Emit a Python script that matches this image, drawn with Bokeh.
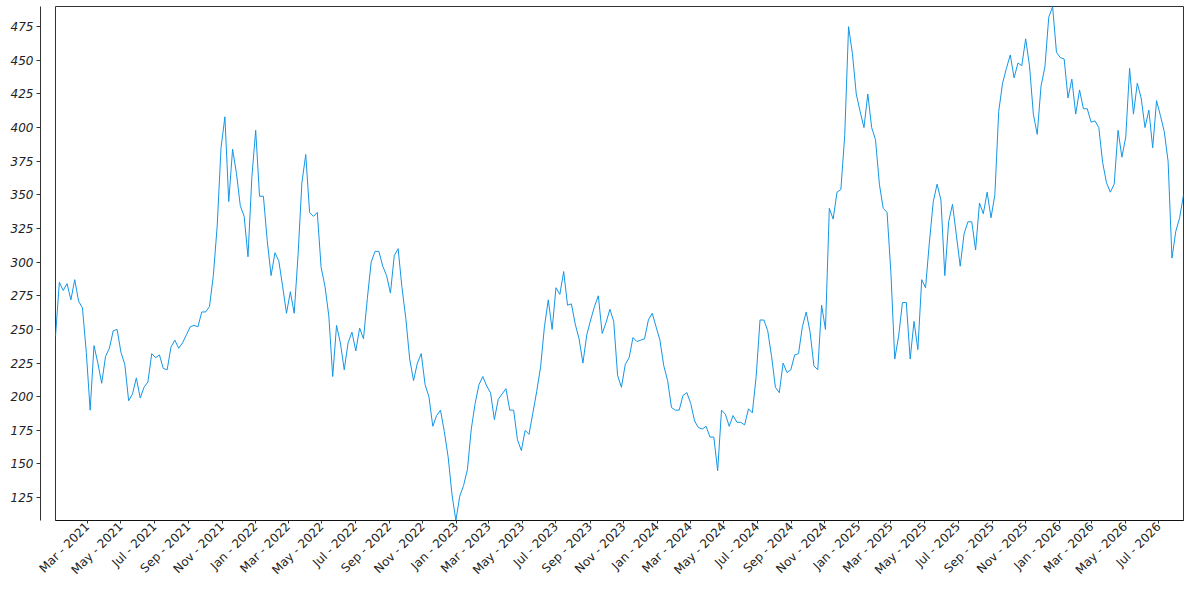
import math
import pandas as pd
from bokeh.plotting import figure
from bokeh.models import (Range1d, LinearAxis, FixedTicker, MonthsTicker,
                          DatetimeTickFormatter, SingleIntervalTicker, ColumnDataSource)
from bokeh.embed import file_html
from bokeh.resources import INLINE

start_date = "2021-01-02"
values = [
    245, 285, 279, 284, 272, 287, 271, 266, 233, 190,
    238, 225, 210, 230, 236, 249, 250, 233, 224, 197,
    202, 214, 199, 207, 211, 232, 229, 231, 221, 220,
    237, 242, 236, 240, 246, 252, 253, 252, 263, 263,
    267, 290, 327, 385, 408, 345, 384, 366, 342, 334,
    304, 363, 398, 349, 349, 316, 290, 307, 301, 282,
    262, 278, 262, 305, 359, 380, 337, 334, 337, 296,
    282, 260, 215, 253, 240, 220, 240, 248, 234, 251,
    243, 273, 300, 308, 308, 297, 290, 277, 305, 310,
    281, 258, 228, 212, 225, 232, 209, 200, 178, 186,
    190, 174, 155, 127, 108, 126, 134, 146, 176, 195,
    209, 215, 208, 203, 183, 198, 202, 206, 190, 190,
    168, 160, 175, 172, 188, 204, 222, 252, 272, 250,
    281, 276, 293, 268, 269, 254, 243, 225, 246, 257,
    267, 275, 247, 255, 265, 256, 216, 207, 224, 229,
    244, 241, 242, 243, 257, 262, 252, 242, 223, 212,
    192, 190, 190, 201, 203, 195, 182, 177, 176, 178,
    170, 170, 145, 190, 187, 178, 186, 181, 181, 179,
    191, 188, 215, 257, 257, 249, 230, 207, 203, 225,
    218, 220, 231, 232, 252, 263, 248, 223, 220, 268,
    250, 340, 332, 352, 354, 394, 475, 455, 425, 412,
    400, 425, 400, 391, 358, 340, 337, 292, 228, 245,
    270, 270, 228, 256, 235, 287, 281, 315, 345, 358,
    346, 290, 330, 343, 320, 297, 321, 330, 330, 309,
    344, 336, 352, 333, 350, 412, 433, 444, 454, 437,
    448, 446, 466, 446, 410, 395, 431, 445, 482, 490,
    456, 452, 451, 422, 436, 410, 428, 414, 414, 404,
    405, 400, 374, 359, 352, 358, 398, 378, 393, 444,
    410, 433, 422, 400, 413, 385, 420, 409, 397, 375,
    303, 323, 333, 350,
]
y_tick_step = 25
tick_months = [0, 2, 4, 6, 8, 10]
label_format = "%b - %Y"

dates = pd.date_range(start_date, periods=len(values), freq="7D")
src = ColumnDataSource(dict(date=dates, value=values))

p = figure(width=1184, height=584, x_axis_type="datetime",
           x_range=Range1d(dates[0], dates[-1]),
           y_range=Range1d(min(values), max(values)),
           y_axis_location=None,
           output_backend="svg", toolbar_location=None,
           min_border_left=0, min_border_right=1, min_border_top=6, min_border_bottom=0)
p.grid.visible = False
p.outline_line_color = "#333333"
p.outline_line_width = 1
p.background_fill_color = "white"
p.border_fill_color = "white"

p.line("date", "value", source=src, line_color="#1496e6", line_width=1)


def spacer_axis(standoff, size):
    # an empty axis whose only job is to take up horizontal room
    return LinearAxis(ticker=FixedTicker(ticks=[]), axis_line_color=None,
                      major_tick_line_color=None, minor_tick_line_color=None,
                      major_tick_in=0, major_tick_out=0, minor_tick_out=0,
                      major_label_standoff=0,
                      axis_label="\u00a0", axis_label_text_font_size=size,
                      axis_label_text_color="white", axis_label_standoff=standoff)


p.add_layout(spacer_axis(7, "4px"), "left")

yaxis = LinearAxis(ticker=SingleIntervalTicker(interval=y_tick_step))
yaxis.axis_line_color = "#333333"
yaxis.major_tick_line_color = "#333333"
yaxis.minor_tick_line_color = None
yaxis.major_tick_in = 0
yaxis.major_tick_out = 4
yaxis.major_label_standoff = 3
yaxis.major_label_text_font = "DejaVu Sans"
yaxis.major_label_text_font_style = "italic"
yaxis.major_label_text_font_size = "12px"
yaxis.major_label_text_color = "#222222"
p.add_layout(yaxis, "left")

p.add_layout(spacer_axis(2, "2px"), "left")

xaxis = p.xaxis[0]
xaxis.ticker = MonthsTicker(months=tick_months)
xaxis.formatter = DatetimeTickFormatter(months=label_format, days=label_format,
                                        years=label_format)
xaxis.major_label_orientation = math.pi / 4
xaxis.axis_line_color = "#111111"
xaxis.major_tick_line_color = "#333333"
xaxis.minor_tick_line_color = None
xaxis.major_tick_in = 0
xaxis.major_tick_out = 3
xaxis.major_label_standoff = 1
xaxis.major_label_text_font = "DejaVu Sans"
xaxis.major_label_text_font_size = "12px"
xaxis.major_label_text_color = "#222222"

open("out.html", "w").write(file_html(p, INLINE))
